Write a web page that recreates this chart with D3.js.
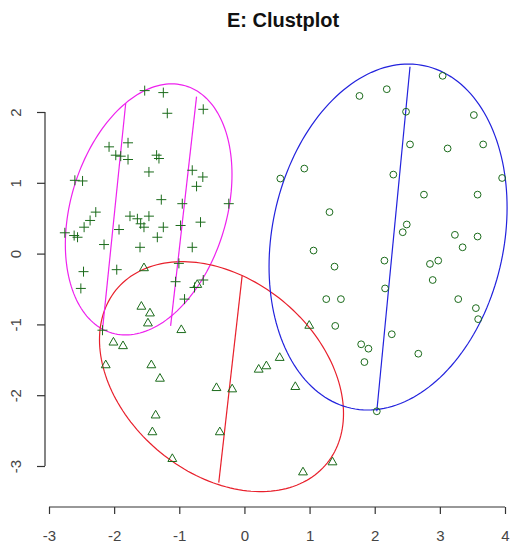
<!DOCTYPE html>
<html><head><meta charset="utf-8">
<script src="https://cdn.jsdelivr.net/npm/d3@7"></script>
<style>body{margin:0;background:#fff}svg{display:block}</style>
</head><body><svg id="c" width="513" height="548"></svg>
<script>
const title = "E: Clustplot";
const xTicks = [-3,-2,-1,0,1,2,3,4];
const yTicks = [-3,-2,-1,0,1,2];

// cluster 1 (plus signs)
const plusX = [-1.531,-1.245,-1.184,-0.632,-2.078,-1.787,-1.975,-1.899,-1.787,-1.348,-1.312,-1.466,-0.801,-0.639,-0.735,-2.603,-2.485,-1.276,-0.954,-0.240,-2.282,-2.369,-2.461,-2.757,-2.614,-2.562,-1.757,-1.643,-1.593,-1.466,-1.542,-1.245,-1.925,-0.980,-0.674,-1.337,-2.155,-1.603,-0.801,-2.470,-2.511,-1.960,-1.006,-1.057,-0.632,-0.766,-0.919,-2.179];
const plusY = [2.302,2.274,1.982,2.038,1.508,1.565,1.390,1.376,1.329,1.390,1.343,1.153,1.177,1.082,0.950,1.035,1.026,0.762,0.705,0.705,0.586,0.468,0.373,0.294,0.255,0.231,0.529,0.492,0.421,0.529,0.373,0.373,0.340,0.397,0.444,0.231,0.128,0.089,0.089,-0.255,-0.492,-0.227,-0.138,-0.397,-0.373,-0.478,-0.643,-1.082];

// cluster 2 (triangles)
const triX = [-1.542,-1.582,-1.450,-1.481,-0.969,-2.011,-1.864,-2.129,-1.429,-1.297,-0.429,-0.188,0.219,0.337,0.541,0.781,0.995,-1.363,-1.413,-0.378,-1.107,0.899,1.352,-0.724];
const triY = [-0.194,-0.738,-0.833,-0.974,-1.068,-1.244,-1.295,-1.565,-1.565,-1.755,-1.887,-1.905,-1.627,-1.579,-1.461,-1.872,-1.007,-2.274,-2.511,-2.511,-2.889,-3.078,-2.936,-0.430];

// cluster 3 (circles)
const circX = [3.043,1.766,2.185,2.481,3.522,2.542,3.119,3.665,0.919,0.551,2.286,3.956,2.756,3.579,1.306,2.492,2.430,3.231,3.579,3.349,1.061,1.383,2.149,2.848,2.975,2.890,2.159,1.256,1.481,3.282,3.553,3.588,1.394,2.262,1.792,1.904,1.842,2.669,2.032];
const circY = [2.511,2.227,2.322,2.004,1.957,1.542,1.485,1.542,1.201,1.060,1.116,1.068,0.833,0.833,0.586,0.411,0.302,0.265,0.241,0.089,0.043,-0.184,-0.099,-0.146,-0.099,-0.373,-0.492,-0.643,-0.643,-0.643,-0.770,-0.926,-1.021,-1.139,-1.281,-1.343,-1.532,-1.414,-2.227];

// ellipses: centre and covariance (data units)
const ellNames = ["plus","tri","circ"];
const ellColors = ["#ee22ee","#e8202c","#2222dd"];
const ellCx = [-1.470,-0.352,2.205];
const ellCy = [0.624,-1.738,0.234];
const ellSxx = [1.636,3.508,3.338];
const ellSyy = [3.144,2.638,5.97];
const ellSxy = [0.630,-0.977,0.760];

// segments inside the ellipses
const segColor = ["#ee22ee","#ee22ee","#e8202c","#2222dd"];
const segX1 = [-1.822,-0.735,-0.035,2.542];
const segY1 = [2.128,2.217,-0.312,2.640];
const segX2 = [-2.179,-1.133,-0.394,2.032];
const segY2 = [-1.078,-1.021,-3.234,-2.227];

const svg = d3.select("#c");
const x = d3.scaleLinear().domain([-3,4]).range([49,505]);
const y = d3.scaleLinear().domain([-3,2]).range([466,112]);
const green = "#1b6b1b";
const font = "Liberation Sans, Arial, sans-serif";

svg.append("text").attr("x",283).attr("y",27).attr("text-anchor","middle")
  .attr("font-family",font).attr("font-weight","bold")
  .attr("font-size",20).attr("fill","#111").text(title);

// x axis
const xa = svg.append("g").attr("transform","translate(0,507)")
  .call(d3.axisBottom(x).tickValues(xTicks).tickSize(7).tickPadding(16).tickFormat(d=>String(d)));
xa.select(".domain").attr("stroke","#333").attr("stroke-width",1.2).attr("d",`M${x(-3)},0H${x(4)}`);
xa.selectAll(".tick line").attr("stroke","#333").attr("stroke-width",1.2);
xa.selectAll(".tick text").attr("font-family",font).attr("font-size",15).attr("fill","#444");

// y axis
const ya = svg.append("g").attr("transform","translate(45,0)")
  .call(d3.axisLeft(y).tickValues(yTicks).tickSize(8).tickPadding(0).tickFormat(d=>String(d)));
ya.select(".domain").attr("stroke","#333").attr("stroke-width",1.2).attr("d",`M0,${y(-3)}V${y(2)}`);
ya.selectAll(".tick line").attr("stroke","#333").attr("stroke-width",1.2);
ya.selectAll(".tick text").attr("font-family",font).attr("font-size",15).attr("fill","#444")
  .attr("text-anchor","middle").attr("x",null)
  .attr("transform","translate(-29,0) rotate(-90)").attr("y",0).attr("dy","0.35em");

// ellipses
const line = d3.line().x(d=>x(d[0])).y(d=>y(d[1]));
ellNames.forEach((n,i)=>{
  const l11 = Math.sqrt(ellSxx[i]);
  const l21 = ellSxy[i]/l11;
  const l22 = Math.sqrt(ellSyy[i]-l21*l21);
  const pts = d3.range(0,361,2).map(a=>{
    const t = a*Math.PI/180;
    return [ellCx[i]+l11*Math.cos(t), ellCy[i]+l21*Math.cos(t)+l22*Math.sin(t)];
  });
  svg.append("path").attr("d",line(pts)).attr("fill","none").attr("stroke",ellColors[i]).attr("stroke-width",1.2);
});

segX1.forEach((v,i)=>{
  svg.append("line").attr("x1",x(segX1[i])).attr("y1",y(segY1[i])).attr("x2",x(segX2[i])).attr("y2",y(segY2[i]))
    .attr("stroke",segColor[i]).attr("stroke-width",1.2);
});

// points
const pg = svg.append("g").attr("fill","none").attr("stroke",green).attr("stroke-width",1);
pg.selectAll("path.plus").data(plusX.map((v,i)=>[v,plusY[i]])).join("path").attr("class","plus")
  .attr("d",d=>{const px=x(d[0]),py=y(d[1]),s=5;return `M${px-s},${py}H${px+s}M${px},${py-s}V${py+s}`;});
const tri = d3.symbol().type(d3.symbolTriangle).size(34);
pg.selectAll("path.tri").data(triX.map((v,i)=>[v,triY[i]])).join("path").attr("class","tri")
  .attr("transform",d=>`translate(${x(d[0])},${y(d[1])+0.8})`).attr("d",tri());
pg.selectAll("circle").data(circX.map((v,i)=>[v,circY[i]])).join("circle")
  .attr("cx",d=>x(d[0])).attr("cy",d=>y(d[1])).attr("r",3.4);
</script></body></html>
